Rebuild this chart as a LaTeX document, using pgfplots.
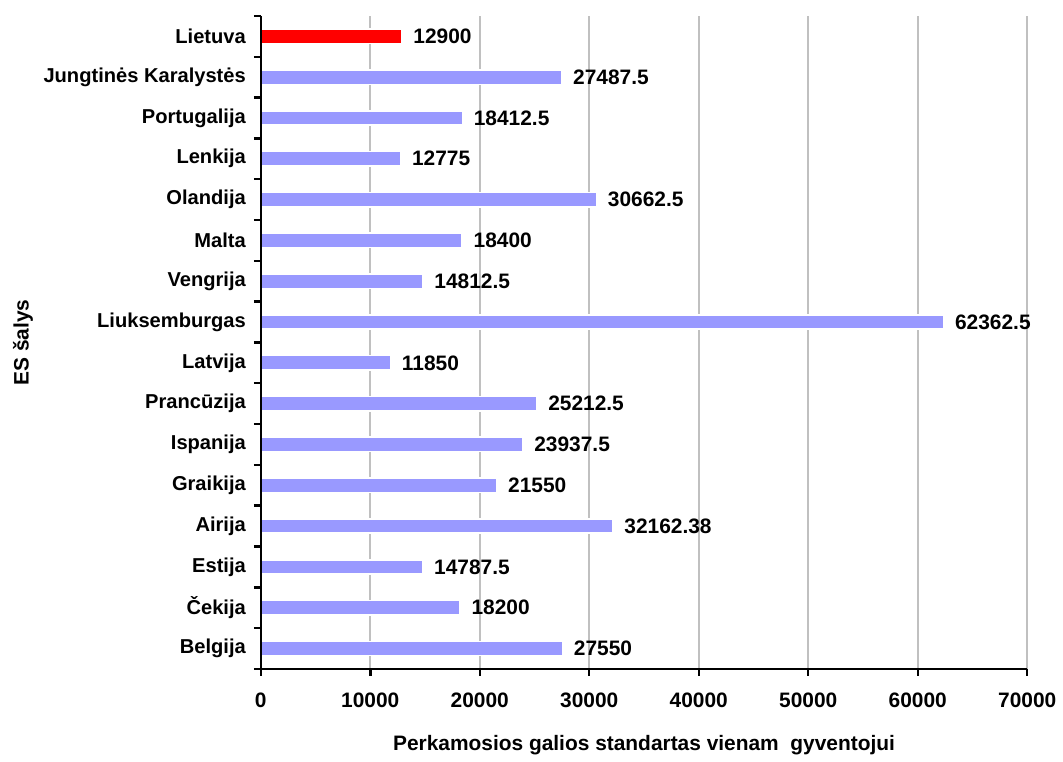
\documentclass[border=0pt]{standalone}
\usepackage{pgfplots}
\pgfplotsset{compat=1.18}
\usepackage{fontspec}
\setmainfont{Liberation Sans}
\definecolor{barblue}{RGB}{153,153,255}
\definecolor{gridgray}{RGB}{192,192,192}
\newcommand{\lf}{\fontsize{10.5}{12}\selectfont\bfseries}
\newcommand{\yf}{\fontsize{10.1}{12}\selectfont\bfseries}
\begin{document}
\begin{tikzpicture}
\begin{axis}[
  scale only axis,
  width=385pt, height=328pt,
  xmin=0, xmax=70000,
  ymin=-0.5, ymax=15.5,
  axis x line*=bottom,
  axis y line*=left,
  axis line style={line width=1.2pt, black},
  xtick={0,10000,...,70000},
  scaled x ticks=false,
  /pgf/number format/1000 sep={},
  /pgf/number format/assume math mode=true,
  xticklabel style={font=\lf, yshift=-5pt},
  ytick={0,...,15},
  yticklabels={Belgija,Čekija,Estija,Airija,Graikija,Ispanija,Prancūzija,Latvija,Liuksemburgas,Vengrija,Malta,Olandija,Lenkija,Portugalija,Jungtinės Karalystės\ ,Lietuva},
  yticklabel style={font=\yf, xshift=-0.5pt},
  minor ytick={-0.5,0.5,...,15.5},
  major tick length=3.5pt,
  minor tick length=3.5pt,
  tick align=outside,
  tick style={black, line width=1.2pt},
  ytick style={draw=none},
  minor y tick style={draw=black, line width=1.2pt},
  xmajorgrids,
  major grid style={gridgray, line width=1pt},
  xlabel={Perkamosios galios standartas vienam\ \ gyventojui},
  ylabel={ES šalys},
  label style={font=\lf},
  xlabel style={yshift=-7pt},
  ylabel style={yshift=-1.5pt},
  xbar, bar width=7.2pt, bar shift=0pt,
  nodes near coords,
  point meta=explicit symbolic,
  every node near coord/.append style={font=\lf, black, anchor=west, xshift=2pt},
  clip=false,
  after end axis/.code={
    \draw[line width=1.2pt, black] (rel axis cs:0,1) -- (rel axis cs:0,0) -- (rel axis cs:1,0);
    \path (rel axis cs:0,1) ++(-131pt,8pt);
    \path (rel axis cs:1,0) ++(15.5pt,-42.5pt);
  },
]
\addplot[draw=white, line width=0.8pt, fill=barblue] table[x=x, y=y, meta=lab] {
x y lab
27550 0 27550
18200 1 18200
14787.5 2 14787.5
32162.38 3 32162.38
21550 4 21550
23937.5 5 23937.5
25212.5 6 25212.5
11850 7 11850
62362.5 8 62362.5
14812.5 9 14812.5
18400 10 18400
30662.5 11 30662.5
12775 12 12775
18412.5 13 18412.5
27487.5 14 27487.5
};
\addplot[draw=white, line width=0.8pt, fill=red] table[x=x, y=y, meta=lab] {
x y lab
12900 15 12900
};
\end{axis}
\end{tikzpicture}
\end{document}
